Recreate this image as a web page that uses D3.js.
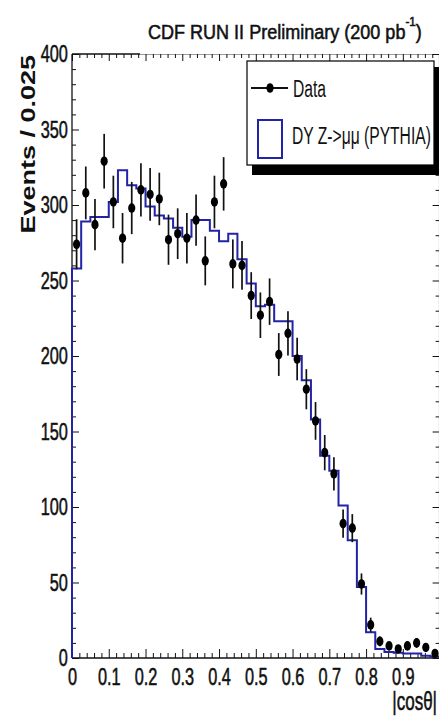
<!DOCTYPE html>
<html>
<head>
<meta charset="utf-8">
<script src="https://cdn.jsdelivr.net/npm/d3@7"></script>
<style>
  body { margin: 0; background: #fff; }
  svg { display: block; }
  text { font-family: "Liberation Sans", Arial, Helvetica, sans-serif; }
  .heavy { stroke: #111; stroke-width: 0.55px; paint-order: fill; }
</style>
</head>
<body>
<svg id="chart" width="439" height="725"></svg>
<script>
// |cos(theta)| distribution, 40 bins of width 0.025
const binLow = [0, 0.025, 0.05, 0.075, 0.1, 0.125, 0.15, 0.175, 0.2, 0.225,
  0.25, 0.275, 0.3, 0.325, 0.35, 0.375, 0.4, 0.425, 0.45, 0.475,
  0.5, 0.525, 0.55, 0.575, 0.6, 0.625, 0.65, 0.675, 0.7, 0.725,
  0.75, 0.775, 0.8, 0.825, 0.85, 0.875, 0.9, 0.925, 0.95, 0.975];
const binWidth = 0.025;

// Observed events per bin
const dataCounts = [274, 308, 287, 329, 302, 278, 298, 310, 307, 304,
  277, 281, 278, 290, 263, 302, 314, 261, 260, 240,
  227, 236, 201, 215, 198, 178, 157, 136, 122, 89,
  86, 49, 22, 11, 8, 6, 8, 10, 7, 3];

// Statistical uncertainty on each data bin
const dataErrors = [16.6, 17.5, 16.9, 18.1, 17.4, 16.7, 17.3, 17.6, 17.5, 17.4,
  16.6, 16.8, 16.7, 17.0, 16.2, 17.4, 17.7, 16.2, 16.1, 15.5,
  15.1, 15.4, 14.2, 14.7, 14.1, 13.3, 12.5, 11.7, 11.0, 9.4,
  9.3, 7.0, 4.7, 3.3, 2.8, 2.4, 2.8, 3.2, 2.6, 1.7];

// Drell-Yan Z -> mu mu simulation (PYTHIA)
const mcCounts = [258, 289, 292, 292, 302, 323, 313, 311, 299, 293,
  291, 285, 279, 290, 290, 283, 276, 281, 264, 248,
  233, 234, 223, 223, 200, 184, 158, 134, 124, 101,
  78, 47, 17, 6, 4, 3.5, 3, 3, 1.5, 1];

const xTickValues = [0, 0.1, 0.2, 0.3, 0.4, 0.5, 0.6, 0.7, 0.8, 0.9, 1];
const xTickLabels = ["0", "0.1", "0.2", "0.3", "0.4", "0.5", "0.6", "0.7", "0.8", "0.9", ""];
const yTickValues = [0, 50, 100, 150, 200, 250, 300, 350, 400];
const yTickLabels = ["0", "50", "100", "150", "200", "250", "300", "350", "400"];

const ink = "#111";
const mcColor = "#2323a6";
const SX = 0.68;           // horizontal squeeze of the narrow type

const svg = d3.select("#chart");
svg.append("rect").attr("width", 439).attr("height", 725).attr("fill", "#fff");

const x = d3.scaleLinear().domain([0, 1]).range([72, 439.6]);
const y = d3.scaleLinear().domain([0, 400]).range([658, 54]);

const xMinor = d3.range(0, 1.0001, 0.02).filter(v => Math.abs(v * 10 - Math.round(v * 10)) > 1e-6);
const yMinor = d3.range(0, 400.1, 10).filter(v => v % 50 !== 0);

// Frame
const frame = svg.append("g").attr("stroke", ink).attr("stroke-width", 1.3).attr("fill", "none");
frame.append("line").attr("x1", x(0)).attr("x2", x(0)).attr("y1", y(0)).attr("y2", y(400));
frame.append("line").attr("x1", x(0)).attr("x2", x(1)).attr("y1", y(0)).attr("y2", y(0));
frame.append("line").attr("x1", x(1)).attr("x2", x(1)).attr("y1", y(0)).attr("y2", y(400));
frame.append("line").attr("x1", x(0)).attr("x2", x(1)).attr("y1", y(400)).attr("y2", y(400));

// Title pave (white) sits on top of the upper frame edge
svg.append("rect").attr("x", 140).attr("y", 0).attr("width", 300).attr("height", y(400) + 0.45).attr("fill", "#fff");

function clean(g) {
  g.select(".domain").remove();
  g.selectAll("line").attr("stroke", ink).attr("stroke-width", 1);
  g.attr("font-family", null).attr("font-size", null);
}

// Bottom axis
svg.append("g").attr("transform", `translate(0,${y(0)})`)
  .call(d3.axisBottom(x).tickValues(xMinor).tickFormat(() => "").tickSizeInner(-5).tickSizeOuter(0))
  .call(clean);
const gxb = svg.append("g").attr("transform", `translate(0,${y(0)})`)
  .call(d3.axisBottom(x).tickValues(xTickValues).tickFormat((d, i) => xTickLabels[i])
    .tickSizeInner(-9).tickSizeOuter(0).tickPadding(10))
  .call(clean);
gxb.selectAll("text").attr("font-size", 24).attr("fill", ink).attr("class", "heavy")
  .attr("transform", `scale(${SX},1)`);

// Top axis (ticks only)
svg.append("g").attr("transform", `translate(0,${y(400)})`)
  .call(d3.axisTop(x).tickValues(xMinor).tickFormat(() => "").tickSizeInner(-4).tickSizeOuter(0))
  .call(clean);
svg.append("g").attr("transform", `translate(0,${y(400)})`)
  .call(d3.axisTop(x).tickValues(xTickValues).tickFormat(() => "").tickSizeInner(-7).tickSizeOuter(0))
  .call(clean);

// Left axis
svg.append("g").attr("transform", `translate(${x(0)},0)`)
  .call(d3.axisLeft(y).tickValues(yMinor).tickFormat(() => "").tickSizeInner(-4).tickSizeOuter(0))
  .call(clean);
const gyl = svg.append("g").attr("transform", `translate(${x(0)},0)`)
  .call(d3.axisLeft(y).tickValues(yTickValues).tickFormat((d, i) => yTickLabels[i])
    .tickSizeInner(-7).tickSizeOuter(0).tickPadding(6))
  .call(clean);
gyl.selectAll("text").attr("font-size", 24).attr("fill", ink).attr("class", "heavy")
  .attr("transform", `scale(${SX},1)`);

// Right axis (ticks only)
svg.append("g").attr("transform", `translate(${x(1)},0)`)
  .call(d3.axisRight(y).tickValues(yMinor).tickFormat(() => "").tickSizeInner(-4).tickSizeOuter(0))
  .call(clean);
svg.append("g").attr("transform", `translate(${x(1)},0)`)
  .call(d3.axisRight(y).tickValues(yTickValues).tickFormat(() => "").tickSizeInner(-7).tickSizeOuter(0))
  .call(clean);

// Simulation histogram as a step outline
const steps = [[0, 0]]
  .concat(binLow.map((b, i) => [b, mcCounts[i]]))
  .concat([[1, mcCounts[mcCounts.length - 1]], [1, 0]]);
svg.append("path")
  .attr("d", d3.line().x(d => x(d[0])).y(d => y(d[1])).curve(d3.curveStepAfter)(steps))
  .attr("fill", "none").attr("stroke", mcColor).attr("stroke-width", 2);

// Data: error bars and markers
const pts = binLow.map((b, i) => ({ c: b + binWidth / 2, v: dataCounts[i], e: dataErrors[i] }));
svg.append("g").selectAll("line").data(pts).join("line")
  .attr("x1", d => x(d.c)).attr("x2", d => x(d.c))
  .attr("y1", d => y(d.v - d.e)).attr("y2", d => y(d.v + d.e))
  .attr("stroke", ink).attr("stroke-width", 1.7);
svg.append("g").selectAll("ellipse").data(pts).join("ellipse")
  .attr("cx", d => x(d.c)).attr("cy", d => y(d.v))
  .attr("rx", 3.6).attr("ry", 4.8).attr("fill", "#000");

// Title
const title = svg.append("text").attr("font-size", 20).attr("fill", ink).attr("class", "heavy");
title.append("tspan").text("CDF RUN II Preliminary (200 pb");
title.append("tspan").attr("font-size", 13).attr("dy", -13).text("-1");
title.append("tspan").attr("dy", 13).text(")");
const tlen = title.node().getComputedTextLength();
title.attr("transform", `translate(148,39) scale(${274 / tlen},1)`);

// Axis titles
svg.append("text")
  .attr("transform", "translate(35,55) scale(0.76,1) rotate(-90)")
  .attr("text-anchor", "end").attr("font-size", 27).attr("font-weight", "bold").attr("fill", ink)
  .text("Events / 0.025");
svg.append("text")
  .attr("transform", `translate(437,710) scale(${SX},1)`)
  .attr("text-anchor", "end").attr("font-size", 25).attr("fill", ink).attr("class", "heavy")
  .text("|cosθ|");

// Legend with drop shadow
const lg = svg.append("g");
lg.append("rect").attr("x", 252).attr("y", 67).attr("width", 191).attr("height", 108).attr("fill", "#000");
lg.append("rect").attr("x", 247).attr("y", 61).attr("width", 187).attr("height", 104)
  .attr("fill", "#fff").attr("stroke", "#000").attr("stroke-width", 1.2);
lg.append("line").attr("x1", 251).attr("x2", 288).attr("y1", 88).attr("y2", 88)
  .attr("stroke", ink).attr("stroke-width", 1.8);
lg.append("ellipse").attr("cx", 270).attr("cy", 88).attr("rx", 3.6).attr("ry", 4.8).attr("fill", "#000");
lg.append("text").attr("transform", `translate(293,96.5) scale(${SX},1)`)
  .attr("font-size", 23).attr("fill", ink).text("Data");
lg.append("rect").attr("x", 258).attr("y", 120).attr("width", 24).attr("height", 38)
  .attr("fill", "none").attr("stroke", mcColor).attr("stroke-width", 2);
lg.append("text").attr("transform", `translate(292,143.5) scale(${SX},1)`)
  .attr("font-size", 23).attr("fill", ink).text("DY Z->μμ (PYTHIA)");
</script>
</body>
</html>
